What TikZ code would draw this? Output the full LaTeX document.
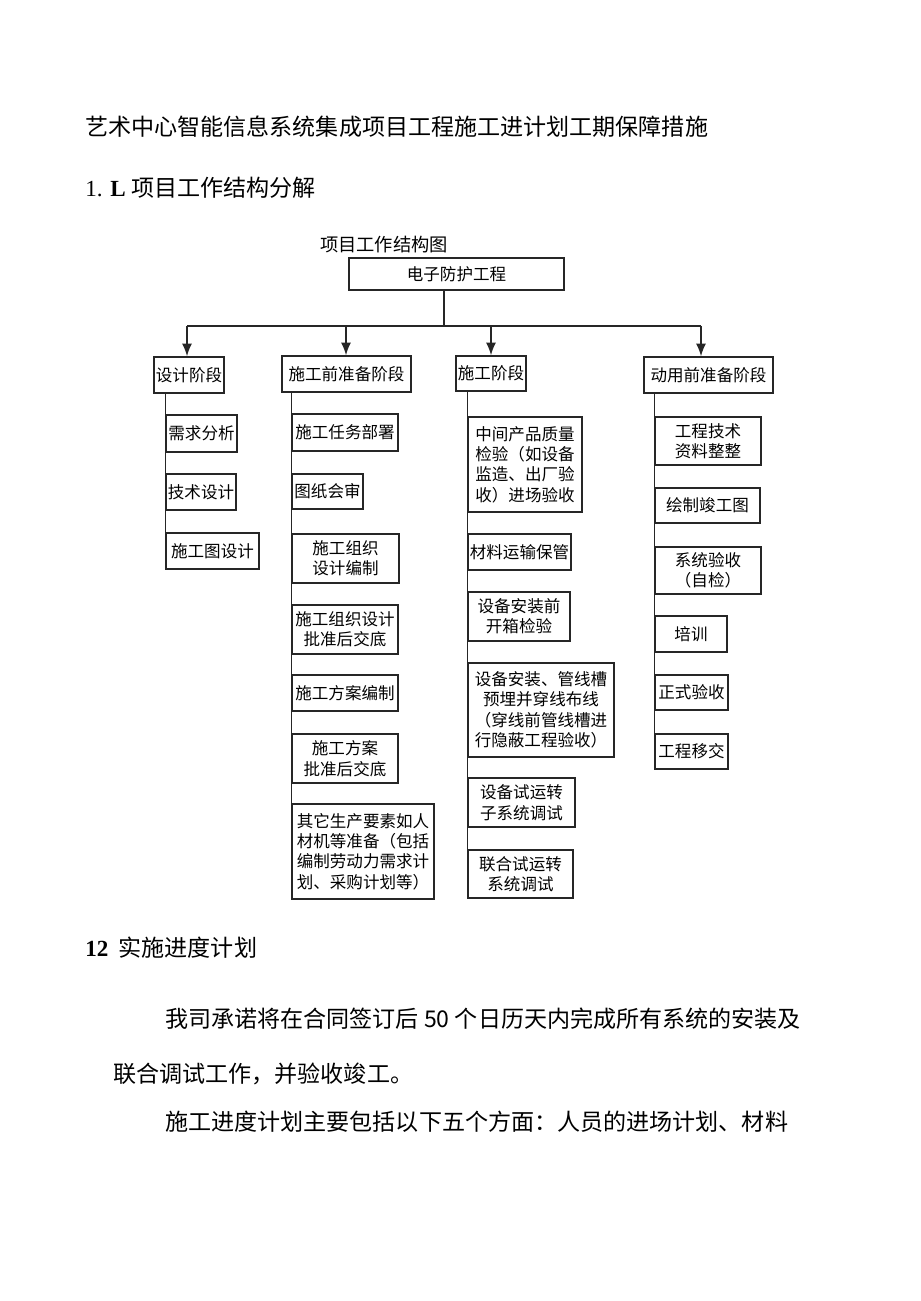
\documentclass[tikz,border=0pt]{standalone}
\usepackage{fontspec}
\setmainfont{Noto Sans CJK SC}
\newfontfamily\lat{Liberation Serif}
\usetikzlibrary{fit,arrows.meta}
\newcommand\bx[6]{\node[bx, fit={(#2,#3) (#4,#5)}] (#1) {};
  \node[lab] (#1-t) at (#1.center) {#6};}
\begin{document}
\begin{tikzpicture}[x=0.75pt,y=-0.75pt,
  bx/.style={draw=black!85, line width=1.1pt, inner sep=0pt},
  lab/.style={inner sep=0pt, align=center, font=\fontsize{12.4pt}{15.3pt}\selectfont},
  ln/.style={draw=black!85, line width=1.1pt},
  arr/.style={ln, -{Latex[length=9.5pt,width=7.5pt]}},
  txt/.style={inner sep=0pt, anchor=west, font=\fontsize{17.3pt}{20pt}\selectfont}]
\useasboundingbox[fill=white] (0,0) rectangle (920,1301);

% texts
\node[txt] (title) at (85,127) {艺术中心智能信息系统集成项目工程施工进计划工期保障措施};
\node[txt] (h1) at (85,188) {{\lat 1. \textbf{L}}\hspace{0.25em}项目工作结构分解};
\node[txt] (h2) at (85,948) {{\lat\bfseries 12}\hspace{0.45em}实施进度计划};
\node[txt] (par1) at (165,1019) {我司承诺将在合同签订后 50 个日历天内完成所有系统的安装及};
\node[txt] (par2) at (113,1074) {联合调试工作，并验收竣工。};
\node[txt] (par3) at (165,1122) {施工进度计划主要包括以下五个方面：人员的进场计划、材料};
\node[inner sep=0pt, font=\fontsize{13.7pt}{16pt}\selectfont] (cap) at (384,245) {项目工作结构图};

% boxes
\bx{top}{349}{258}{564}{290}{电子防护工程}
\bx{p1}{154}{357}{224}{393}{设计阶段}
\bx{p2}{282}{356}{411}{392}{施工前准备阶段}
\bx{p3}{456}{356}{526}{391}{施工阶段}
\bx{p4}{644}{357}{773}{393}{动用前准备阶段}

\bx{a1}{166}{415}{237}{452}{需求分析}
\bx{a2}{166}{474}{236}{510}{技术设计}
\bx{a3}{166}{533}{259}{569}{施工图设计}

\bx{b1}{292}{414}{398}{451}{施工任务部署}
\bx{b2}{292}{474}{363}{509}{图纸会审}
\bx{b3}{292}{534}{399}{583}{施工组织\\设计编制}
\bx{b4}{292}{605}{398}{654}{施工组织设计\\批准后交底}
\bx{b5}{292}{675}{398}{711}{施工方案编制}
\bx{b6}{292}{734}{398}{783}{施工方案\\批准后交底}
\bx{b7}{292}{804}{434}{899}{其它生产要素如人\\材机等准备（包括\\编制劳动力需求计\\划、采购计划等）}

\bx{c1}{468}{417}{582}{512}{中间产品质量\\检验（如设备\\监造、出厂验\\收）进场验收}
\bx{c2}{468}{534}{571}{570}{材料运输保管}
\bx{c3}{468}{592}{570}{641}{设备安装前\\开箱检验}
\bx{c4}{468}{663}{614}{757}{设备安装、管线槽\\预埋并穿线布线\\（穿线前管线槽进\\行隐蔽工程验收）}
\bx{c5}{468}{778}{575}{827}{设备试运转\\子系统调试}
\bx{c6}{468}{850}{573}{898}{联合试运转\\系统调试}

\bx{d1}{655}{417}{761}{465}{工程技术\\资料整整}
\bx{d2}{655}{488}{760}{523}{绘制竣工图}
\bx{d3}{655}{547}{761}{594}{系统验收\\（自检）}
\bx{d4}{655}{616}{727}{652}{培训}
\bx{d5}{655}{675}{728}{710}{正式验收}
\bx{d6}{655}{734}{728}{769}{工程移交}

% connectors
\coordinate (J) at (444,326);
\coordinate (BL) at (187,326);
\coordinate (BR) at (701,326);
\coordinate (k2) at (346,326);
\coordinate (k3) at (491,326);
\draw[ln] (top.south -| J) -- (J);
\draw[ln] (BL) -- (BR);
\draw[arr] (BL) -- (BL |- p1.north);
\draw[arr] (k2) -- (k2 |- p2.north);
\draw[arr] (k3) -- (k3 |- p3.north);
\draw[arr] (BR) -- (BR |- p4.north);
\draw[ln] (p1.south -| a3.west) -- (a3.south west);
\draw[ln] (p2.south -| b7.west) -- (b7.south west);
\draw[ln] (p3.south -| c6.west) -- (c6.south west);
\draw[ln] (p4.south -| d6.west) -- (d6.south west);
\end{tikzpicture}
\end{document}
